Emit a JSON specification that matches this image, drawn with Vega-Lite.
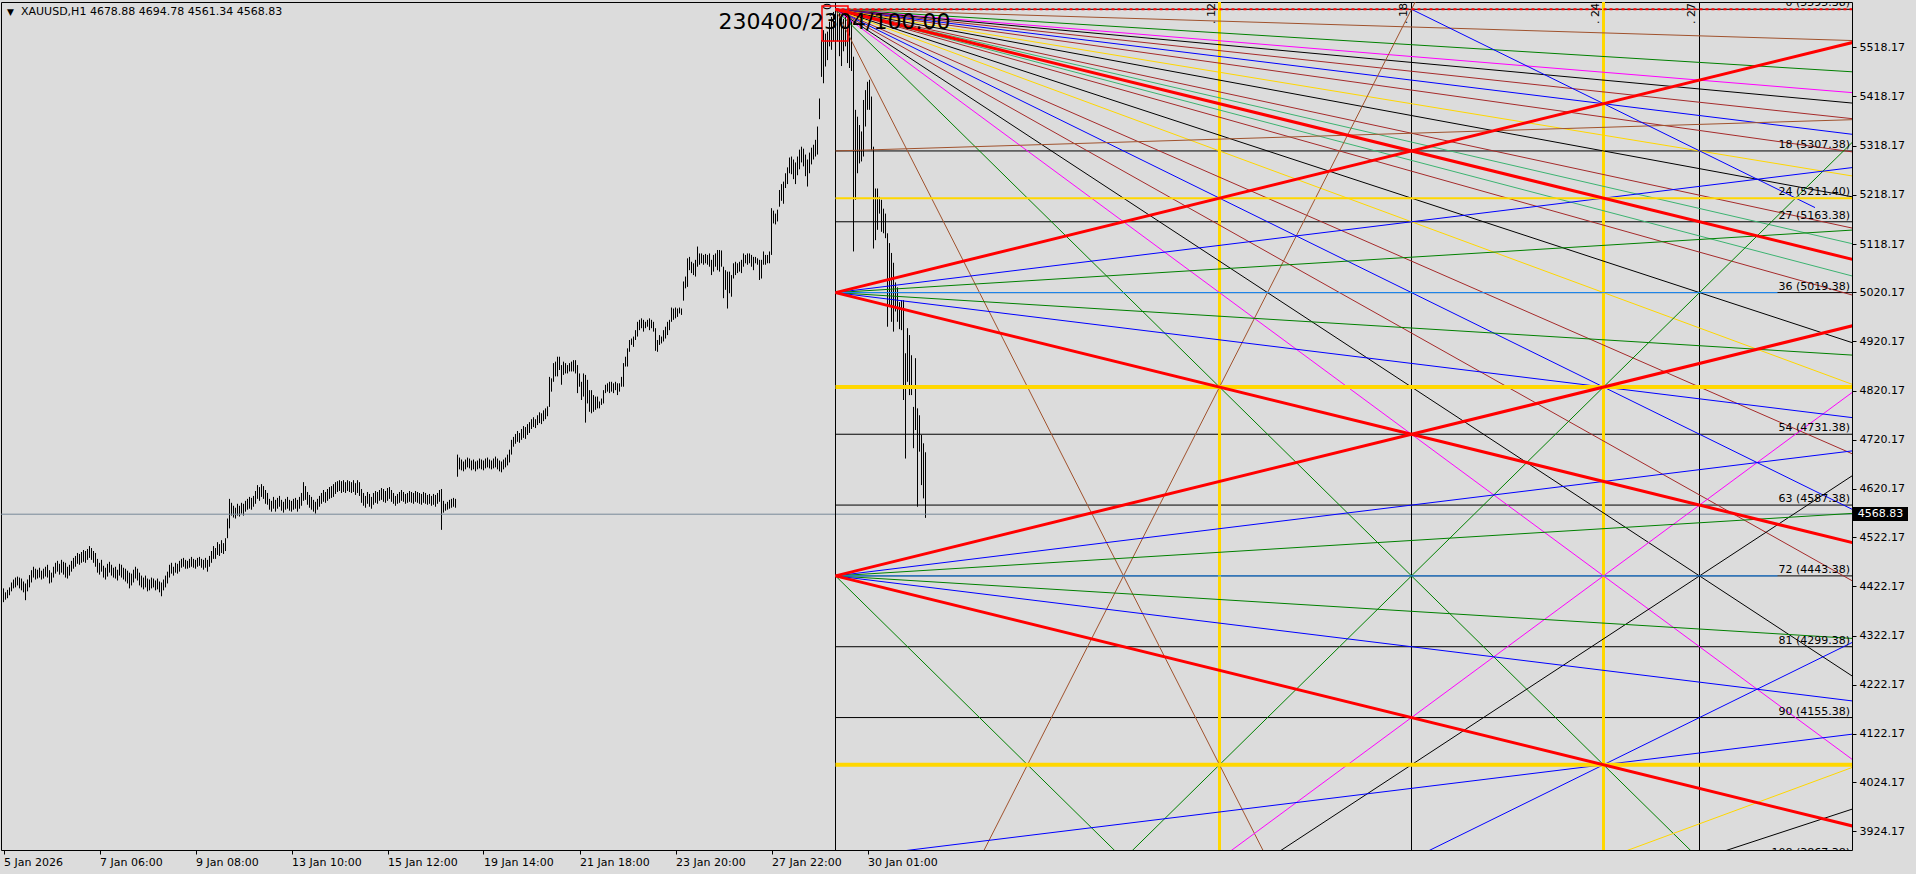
{
"$schema":"https://vega.github.io/schema/vega-lite/v6.json",
"width":1851,"height":848,
"autosize":{"type":"none"},
"padding":{"left":1,"top":2,"right":64,"bottom":24},
"background":"#DCDCDC",
"config":{"view":{"stroke":"#000000","strokeWidth":1,"fill":"#DCDCDC"},
"axis":{"grid":false,"domain":false,"title":null,"labelFont":"DejaVu Sans","labelFontSize":11,"labelColor":"#000000","tickColor":"#000000","tickSize":4}},
"datasets":{
"bars":[
{"i":0,"h":4418,"l":4390},{"i":1,"h":4410,"l":4395},{"i":2,"h":4415,"l":4398},{"i":3,"h":4420,"l":4404},{"i":4,"h":4430,"l":4412},{"i":5,"h":4436,"l":4418},{"i":6,"h":4440,"l":4420},{"i":7,"h":4442,"l":4424},{"i":8,"h":4440,"l":4418},{"i":9,"h":4438,"l":4414},
{"i":10,"h":4432,"l":4410},{"i":11,"h":4428,"l":4394},{"i":12,"h":4436,"l":4412},{"i":13,"h":4445,"l":4420},{"i":14,"h":4455,"l":4430},{"i":15,"h":4462,"l":4440},{"i":16,"h":4458,"l":4436},{"i":17,"h":4456,"l":4438},{"i":18,"h":4460,"l":4440},{"i":19,"h":4454,"l":4436},
{"i":20,"h":4458,"l":4438},{"i":21,"h":4462,"l":4442},{"i":22,"h":4466,"l":4440},{"i":23,"h":4455,"l":4428},{"i":24,"h":4450,"l":4430},{"i":25,"h":4462,"l":4440},{"i":26,"h":4470,"l":4448},{"i":27,"h":4474,"l":4452},{"i":28,"h":4468,"l":4446},{"i":29,"h":4476,"l":4450},
{"i":30,"h":4472,"l":4446},{"i":31,"h":4470,"l":4440},{"i":32,"h":4462,"l":4438},{"i":33,"h":4466,"l":4444},{"i":34,"h":4474,"l":4452},{"i":35,"h":4480,"l":4458},{"i":36,"h":4484,"l":4462},{"i":37,"h":4490,"l":4468},{"i":38,"h":4488,"l":4466},{"i":39,"h":4492,"l":4470},
{"i":40,"h":4496,"l":4472},{"i":41,"h":4494,"l":4470},{"i":42,"h":4498,"l":4476},{"i":43,"h":4504,"l":4480},{"i":44,"h":4500,"l":4476},{"i":45,"h":4494,"l":4470},{"i":46,"h":4490,"l":4462},{"i":47,"h":4478,"l":4450},{"i":48,"h":4470,"l":4446},{"i":49,"h":4476,"l":4452},
{"i":50,"h":4464,"l":4440},{"i":51,"h":4460,"l":4436},{"i":52,"h":4468,"l":4442},{"i":53,"h":4472,"l":4450},{"i":54,"h":4466,"l":4444},{"i":55,"h":4460,"l":4440},{"i":56,"h":4462,"l":4438},{"i":57,"h":4456,"l":4434},{"i":58,"h":4468,"l":4444},{"i":59,"h":4466,"l":4440},
{"i":60,"h":4460,"l":4436},{"i":61,"h":4458,"l":4432},{"i":62,"h":4454,"l":4428},{"i":63,"h":4450,"l":4418},{"i":64,"h":4448,"l":4424},{"i":65,"h":4456,"l":4430},{"i":66,"h":4462,"l":4438},{"i":67,"h":4458,"l":4434},{"i":68,"h":4450,"l":4424},{"i":69,"h":4444,"l":4420},
{"i":70,"h":4440,"l":4416},{"i":71,"h":4444,"l":4420},{"i":72,"h":4438,"l":4412},{"i":73,"h":4436,"l":4414},{"i":74,"h":4440,"l":4418},{"i":75,"h":4438,"l":4420},{"i":76,"h":4434,"l":4414},{"i":77,"h":4438,"l":4416},{"i":78,"h":4432,"l":4410},{"i":79,"h":4430,"l":4402},
{"i":80,"h":4436,"l":4414},{"i":81,"h":4444,"l":4420},{"i":82,"h":4452,"l":4428},{"i":83,"h":4466,"l":4440},{"i":84,"h":4470,"l":4448},{"i":85,"h":4462,"l":4444},{"i":86,"h":4470,"l":4450},{"i":87,"h":4468,"l":4448},{"i":88,"h":4474,"l":4452},{"i":89,"h":4478,"l":4460},
{"i":90,"h":4480,"l":4462},{"i":91,"h":4476,"l":4458},{"i":92,"h":4474,"l":4458},{"i":93,"h":4478,"l":4460},{"i":94,"h":4482,"l":4462},{"i":95,"h":4478,"l":4460},{"i":96,"h":4476,"l":4458},{"i":97,"h":4480,"l":4462},{"i":98,"h":4482,"l":4464},{"i":99,"h":4478,"l":4460},
{"i":100,"h":4476,"l":4456},{"i":101,"h":4480,"l":4460},{"i":102,"h":4476,"l":4452},{"i":103,"h":4484,"l":4462},{"i":104,"h":4494,"l":4470},{"i":105,"h":4504,"l":4478},{"i":106,"h":4500,"l":4478},{"i":107,"h":4512,"l":4486},{"i":108,"h":4508,"l":4484},{"i":109,"h":4516,"l":4490},
{"i":110,"h":4510,"l":4488},{"i":111,"h":4520,"l":4494},{"i":112,"h":4560,"l":4520},{"i":113,"h":4600,"l":4540},{"i":114,"h":4592,"l":4566},{"i":115,"h":4586,"l":4562},{"i":116,"h":4582,"l":4560},{"i":117,"h":4590,"l":4566},{"i":118,"h":4586,"l":4564},{"i":119,"h":4592,"l":4570},
{"i":120,"h":4590,"l":4566},{"i":121,"h":4596,"l":4574},{"i":122,"h":4600,"l":4578},{"i":123,"h":4604,"l":4580},{"i":124,"h":4602,"l":4578},{"i":125,"h":4606,"l":4584},{"i":126,"h":4616,"l":4590},{"i":127,"h":4628,"l":4600},{"i":128,"h":4624,"l":4596},{"i":129,"h":4630,"l":4604},
{"i":130,"h":4626,"l":4600},{"i":131,"h":4618,"l":4590},{"i":132,"h":4612,"l":4588},{"i":133,"h":4600,"l":4578},{"i":134,"h":4596,"l":4574},{"i":135,"h":4604,"l":4580},{"i":136,"h":4598,"l":4574},{"i":137,"h":4602,"l":4580},{"i":138,"h":4606,"l":4584},{"i":139,"h":4598,"l":4576},
{"i":140,"h":4594,"l":4572},{"i":141,"h":4600,"l":4578},{"i":142,"h":4604,"l":4580},{"i":143,"h":4598,"l":4576},{"i":144,"h":4596,"l":4574},{"i":145,"h":4600,"l":4578},{"i":146,"h":4602,"l":4580},{"i":147,"h":4598,"l":4574},{"i":148,"h":4604,"l":4580},{"i":149,"h":4612,"l":4586},
{"i":150,"h":4634,"l":4596},{"i":151,"h":4626,"l":4598},{"i":152,"h":4614,"l":4588},{"i":153,"h":4608,"l":4582},{"i":154,"h":4604,"l":4578},{"i":155,"h":4598,"l":4574},{"i":156,"h":4594,"l":4570},{"i":157,"h":4600,"l":4578},{"i":158,"h":4606,"l":4584},{"i":159,"h":4612,"l":4590},
{"i":160,"h":4618,"l":4594},{"i":161,"h":4614,"l":4592},{"i":162,"h":4620,"l":4596},{"i":163,"h":4624,"l":4600},{"i":164,"h":4626,"l":4602},{"i":165,"h":4630,"l":4604},{"i":166,"h":4634,"l":4610},{"i":167,"h":4636,"l":4614},{"i":168,"h":4638,"l":4616},{"i":169,"h":4636,"l":4612},
{"i":170,"h":4638,"l":4614},{"i":171,"h":4634,"l":4612},{"i":172,"h":4638,"l":4616},{"i":173,"h":4636,"l":4614},{"i":174,"h":4634,"l":4612},{"i":175,"h":4638,"l":4614},{"i":176,"h":4632,"l":4608},{"i":177,"h":4638,"l":4612},{"i":178,"h":4634,"l":4606},{"i":179,"h":4620,"l":4592},
{"i":180,"h":4612,"l":4586},{"i":181,"h":4606,"l":4582},{"i":182,"h":4614,"l":4590},{"i":183,"h":4610,"l":4584},{"i":184,"h":4604,"l":4580},{"i":185,"h":4612,"l":4588},{"i":186,"h":4616,"l":4592},{"i":187,"h":4614,"l":4590},{"i":188,"h":4618,"l":4596},{"i":189,"h":4622,"l":4598},
{"i":190,"h":4620,"l":4594},{"i":191,"h":4616,"l":4592},{"i":192,"h":4622,"l":4596},{"i":193,"h":4624,"l":4600},{"i":194,"h":4618,"l":4594},{"i":195,"h":4612,"l":4590},{"i":196,"h":4606,"l":4586},{"i":197,"h":4610,"l":4590},{"i":198,"h":4614,"l":4592},{"i":199,"h":4618,"l":4596},
{"i":200,"h":4614,"l":4594},{"i":201,"h":4610,"l":4590},{"i":202,"h":4612,"l":4592},{"i":203,"h":4616,"l":4594},{"i":204,"h":4614,"l":4592},{"i":205,"h":4612,"l":4590},{"i":206,"h":4616,"l":4594},{"i":207,"h":4614,"l":4592},{"i":208,"h":4612,"l":4590},{"i":209,"h":4610,"l":4588},
{"i":210,"h":4614,"l":4592},{"i":211,"h":4612,"l":4590},{"i":212,"h":4608,"l":4588},{"i":213,"h":4610,"l":4590},{"i":214,"h":4606,"l":4586},{"i":215,"h":4610,"l":4588},{"i":216,"h":4608,"l":4584},{"i":217,"h":4612,"l":4590},{"i":218,"h":4618,"l":4594},{"i":219,"h":4620,"l":4537},
{"i":220,"h":4596,"l":4572},{"i":221,"h":4590,"l":4576},{"i":222,"h":4594,"l":4578},{"i":223,"h":4598,"l":4580},{"i":224,"h":4600,"l":4582},{"i":225,"h":4602,"l":4584},{"i":226,"h":4600,"l":4582},{"i":227,"h":4690,"l":4645},{"i":228,"h":4684,"l":4660},{"i":229,"h":4680,"l":4658},
{"i":230,"h":4676,"l":4656},{"i":231,"h":4680,"l":4660},{"i":232,"h":4684,"l":4664},{"i":233,"h":4682,"l":4662},{"i":234,"h":4678,"l":4658},{"i":235,"h":4680,"l":4660},{"i":236,"h":4676,"l":4656},{"i":237,"h":4678,"l":4660},{"i":238,"h":4682,"l":4662},{"i":239,"h":4680,"l":4660},
{"i":240,"h":4678,"l":4658},{"i":241,"h":4682,"l":4662},{"i":242,"h":4684,"l":4664},{"i":243,"h":4680,"l":4662},{"i":244,"h":4678,"l":4660},{"i":245,"h":4682,"l":4662},{"i":246,"h":4686,"l":4664},{"i":247,"h":4682,"l":4660},{"i":248,"h":4678,"l":4656},{"i":249,"h":4676,"l":4654},
{"i":250,"h":4680,"l":4660},{"i":251,"h":4684,"l":4664},{"i":252,"h":4690,"l":4668},{"i":253,"h":4700,"l":4674},{"i":254,"h":4720,"l":4690},{"i":255,"h":4726,"l":4706},{"i":256,"h":4732,"l":4712},{"i":257,"h":4738,"l":4716},{"i":258,"h":4734,"l":4714},{"i":259,"h":4742,"l":4720},
{"i":260,"h":4748,"l":4724},{"i":261,"h":4746,"l":4722},{"i":262,"h":4752,"l":4730},{"i":263,"h":4756,"l":4734},{"i":264,"h":4762,"l":4742},{"i":265,"h":4766,"l":4746},{"i":266,"h":4762,"l":4744},{"i":267,"h":4770,"l":4750},{"i":268,"h":4776,"l":4754},{"i":269,"h":4774,"l":4752},
{"i":270,"h":4780,"l":4758},{"i":271,"h":4784,"l":4762},{"i":272,"h":4788,"l":4768},{"i":273,"h":4848,"l":4787},{"i":274,"h":4845,"l":4818},{"i":275,"h":4876,"l":4838},{"i":276,"h":4879,"l":4849},{"i":277,"h":4889,"l":4849},{"i":278,"h":4889,"l":4862},{"i":279,"h":4872,"l":4832},
{"i":280,"h":4879,"l":4852},{"i":281,"h":4876,"l":4855},{"i":282,"h":4872,"l":4855},{"i":283,"h":4876,"l":4859},{"i":284,"h":4879,"l":4859},{"i":285,"h":4882,"l":4859},{"i":286,"h":4882,"l":4855},{"i":287,"h":4872,"l":4815},{"i":288,"h":4855,"l":4828},{"i":289,"h":4838,"l":4801},
{"i":290,"h":4855,"l":4808},{"i":291,"h":4852,"l":4755},{"i":292,"h":4842,"l":4794},{"i":293,"h":4821,"l":4777},{"i":294,"h":4821,"l":4774},{"i":295,"h":4811,"l":4777},{"i":296,"h":4808,"l":4781},{"i":297,"h":4808,"l":4784},{"i":298,"h":4798,"l":4784},{"i":299,"h":4804,"l":4791},
{"i":300,"h":4821,"l":4794},{"i":301,"h":4832,"l":4815},{"i":302,"h":4835,"l":4818},{"i":303,"h":4838,"l":4815},{"i":304,"h":4838,"l":4818},{"i":305,"h":4835,"l":4815},{"i":306,"h":4838,"l":4821},{"i":307,"h":4835,"l":4811},{"i":308,"h":4835,"l":4818},{"i":309,"h":4848,"l":4828},
{"i":310,"h":4876,"l":4828},{"i":311,"h":4889,"l":4869},{"i":312,"h":4906,"l":4869},{"i":313,"h":4923,"l":4899},{"i":314,"h":4926,"l":4913},{"i":315,"h":4930,"l":4909},{"i":316,"h":4943,"l":4923},{"i":317,"h":4960,"l":4930},{"i":318,"h":4964,"l":4943},{"i":319,"h":4967,"l":4947},
{"i":320,"h":4964,"l":4940},{"i":321,"h":4960,"l":4947},{"i":322,"h":4964,"l":4950},{"i":323,"h":4967,"l":4943},{"i":324,"h":4964,"l":4947},{"i":325,"h":4960,"l":4940},{"i":326,"h":4947,"l":4901},{"i":327,"h":4923,"l":4899},{"i":328,"h":4933,"l":4913},{"i":329,"h":4930,"l":4916},
{"i":330,"h":4943,"l":4920},{"i":331,"h":4950,"l":4926},{"i":332,"h":4960,"l":4933},{"i":333,"h":4964,"l":4943},{"i":334,"h":4989,"l":4960},{"i":335,"h":4987,"l":4964},{"i":336,"h":4989,"l":4967},{"i":337,"h":4987,"l":4970},{"i":338,"h":4989,"l":4977},{"i":339,"h":4987,"l":4974},
{"i":340,"h":5042,"l":5003},{"i":341,"h":5052,"l":5028},{"i":342,"h":5089,"l":5031},{"i":343,"h":5092,"l":5065},{"i":344,"h":5082,"l":5059},{"i":345,"h":5079,"l":5055},{"i":346,"h":5086,"l":5052},{"i":347,"h":5113,"l":5072},{"i":348,"h":5099,"l":5076},{"i":349,"h":5099,"l":5079},
{"i":350,"h":5096,"l":5076},{"i":351,"h":5098,"l":5079},{"i":352,"h":5096,"l":5076},{"i":353,"h":5099,"l":5072},{"i":354,"h":5086,"l":5055},{"i":355,"h":5096,"l":5062},{"i":356,"h":5099,"l":5072},{"i":357,"h":5106,"l":5065},{"i":358,"h":5106,"l":5062},{"i":359,"h":5105,"l":5072},
{"i":360,"h":5072,"l":5008},{"i":361,"h":5065,"l":5025},{"i":362,"h":5062,"l":4987},{"i":363,"h":5062,"l":5018},{"i":364,"h":5055,"l":5011},{"i":365,"h":5079,"l":5048},{"i":366,"h":5082,"l":5055},{"i":367,"h":5079,"l":5059},{"i":368,"h":5082,"l":5062},{"i":369,"h":5086,"l":5059},
{"i":370,"h":5099,"l":5072},{"i":371,"h":5096,"l":5079},{"i":372,"h":5099,"l":5076},{"i":373,"h":5099,"l":5079},{"i":374,"h":5096,"l":5072},{"i":375,"h":5092,"l":5065},{"i":376,"h":5092,"l":5079},{"i":377,"h":5089,"l":5076},{"i":378,"h":5086,"l":5045},{"i":379,"h":5086,"l":5048},
{"i":380,"h":5103,"l":5076},{"i":381,"h":5096,"l":5076},{"i":382,"h":5096,"l":5079},{"i":383,"h":5103,"l":5079},{"i":384,"h":5191,"l":5096},{"i":385,"h":5186,"l":5160},{"i":386,"h":5180,"l":5158},{"i":387,"h":5188,"l":5164},{"i":388,"h":5228,"l":5194},{"i":389,"h":5240,"l":5206},
{"i":390,"h":5245,"l":5200},{"i":391,"h":5262,"l":5232},{"i":392,"h":5274,"l":5240},{"i":393,"h":5294,"l":5262},{"i":394,"h":5296,"l":5260},{"i":395,"h":5290,"l":5250},{"i":396,"h":5284,"l":5240},{"i":397,"h":5296,"l":5258},{"i":398,"h":5310,"l":5270},{"i":399,"h":5316,"l":5284},
{"i":400,"h":5312,"l":5276},{"i":401,"h":5300,"l":5256},{"i":402,"h":5290,"l":5235},{"i":403,"h":5304,"l":5262},{"i":404,"h":5314,"l":5280},{"i":405,"h":5320,"l":5290},{"i":406,"h":5330,"l":5296},{"i":407,"h":5357,"l":5300},{"i":408,"h":5414,"l":5372},{"i":409,"h":5533,"l":5458},
{"i":410,"h":5553,"l":5445},{"i":411,"h":5546,"l":5479},{"i":412,"h":5550,"l":5492},{"i":413,"h":5570,"l":5520},{"i":414,"h":5580,"l":5513},{"i":415,"h":5590,"l":5530},{"i":416,"h":5595,"l":5540},{"i":417,"h":5592,"l":5530},{"i":418,"h":5588,"l":5500},{"i":419,"h":5580,"l":5480},
{"i":420,"h":5576,"l":5510},{"i":421,"h":5584,"l":5520},{"i":422,"h":5590,"l":5486},{"i":423,"h":5580,"l":5476},{"i":424,"h":5572,"l":5470},{"i":425,"h":5499,"l":5103},{"i":426,"h":5391,"l":5208},{"i":427,"h":5377,"l":5262},{"i":428,"h":5360,"l":5282},{"i":429,"h":5347,"l":5286},
{"i":430,"h":5411,"l":5296},{"i":431,"h":5431,"l":5357},{"i":432,"h":5448,"l":5391},{"i":433,"h":5452,"l":5391},{"i":434,"h":5418,"l":5309},{"i":435,"h":5316,"l":5109},{"i":436,"h":5231,"l":5126},{"i":437,"h":5231,"l":5147},{"i":438,"h":5214,"l":5180},{"i":439,"h":5208,"l":5143},
{"i":440,"h":5190,"l":5140},{"i":441,"h":5180,"l":5130},{"i":442,"h":5140,"l":4950},{"i":443,"h":5120,"l":4990},{"i":444,"h":5100,"l":4960},{"i":445,"h":5080,"l":4940},{"i":446,"h":5040,"l":4981},{"i":447,"h":5030,"l":4960},{"i":448,"h":5000,"l":4945},{"i":449,"h":5004,"l":4943},
{"i":450,"h":5004,"l":4801},{"i":451,"h":4896,"l":4682},{"i":452,"h":4947,"l":4838},{"i":453,"h":4933,"l":4811},{"i":454,"h":4892,"l":4811},{"i":455,"h":4787,"l":4703},{"i":456,"h":4886,"l":4740},{"i":457,"h":4784,"l":4584},{"i":458,"h":4770,"l":4696},{"i":459,"h":4730,"l":4628},
{"i":460,"h":4713,"l":4601},{"i":461,"h":4694.78,"l":4561.34}
],
"fan":[
{"o":"0","r":"1/8","i1":416,"p1":5595.38,"i2":928,"p2":5531.38},
{"o":"0","r":"1/4","i1":416,"p1":5595.38,"i2":928,"p2":5467.38},
{"o":"0","r":"1/3","i1":416,"p1":5595.38,"i2":928,"p2":5424.71},
{"o":"0","r":"3/8","i1":416,"p1":5595.38,"i2":928,"p2":5403.38},
{"o":"0","r":"7/16","i1":416,"p1":5595.38,"i2":928,"p2":5371.38},
{"o":"0","r":"1/2","i1":416,"p1":5595.38,"i2":928,"p2":5339.38},
{"o":"0","r":"9/16","i1":416,"p1":5595.38,"i2":928,"p2":5303.38},
{"o":"0","r":"2/3","i1":416,"p1":5595.38,"i2":928,"p2":5254.05},
{"o":"0","r":"3/4","i1":416,"p1":5595.38,"i2":928,"p2":5211.38},
{"o":"0","r":"7/8","i1":416,"p1":5595.38,"i2":928,"p2":5147.38},
{"o":"0","r":"15/16","i1":416,"p1":5595.38,"i2":928,"p2":5115.38},
{"o":"0","r":"16/15","i1":416,"p1":5595.38,"i2":928,"p2":5049.25},
{"o":"0","r":"8/7","i1":416,"p1":5595.38,"i2":928,"p2":5010.24},
{"o":"0","r":"4/3","i1":416,"p1":5595.38,"i2":928,"p2":4912.71},
{"o":"0","r":"3/2","i1":416,"p1":5595.38,"i2":928,"p2":4827.38},
{"o":"0","r":"16/9","i1":416,"p1":5595.38,"i2":928,"p2":4685.16},
{"o":"0","r":"2","i1":416,"p1":5595.38,"i2":928,"p2":4571.38},
{"o":"0","r":"16/7","i1":416,"p1":5595.38,"i2":928,"p2":4425.09},
{"o":"0","r":"8/3","i1":416,"p1":5595.38,"i2":928,"p2":4230.05},
{"o":"0","r":"3","i1":416,"p1":5595.38,"i2":928,"p2":4059.38},
{"o":"0","r":"4","i1":416,"p1":5595.38,"i2":928,"p2":3547.38},
{"o":"0","r":"8","i1":416,"p1":5595.38,"i2":928,"p2":1499.38},
{"o":"144","r":"4/3","i1":416,"p1":3291.38,"i2":928,"p2":3974.05},
{"o":"144","r":"3/2","i1":416,"p1":3291.38,"i2":928,"p2":4059.38},
{"o":"144","r":"2","i1":416,"p1":3291.38,"i2":928,"p2":4315.38},
{"o":"144","r":"8/3","i1":416,"p1":3291.38,"i2":928,"p2":4656.71},
{"o":"144","r":"3","i1":416,"p1":3291.38,"i2":928,"p2":4827.38},
{"o":"144","r":"4","i1":416,"p1":3291.38,"i2":928,"p2":5339.38},
{"o":"144","r":"8","i1":416,"p1":3291.38,"i2":928,"p2":7387.38},
{"o":"36","r":"1/2","i1":416,"p1":5019.38,"i2":928,"p2":5275.38},
{"o":"36","r":"1/4","i1":416,"p1":5019.38,"i2":928,"p2":5147.38},
{"o":"36","r":"1/4","i1":416,"p1":5019.38,"i2":928,"p2":4891.38},
{"o":"36","r":"1/2","i1":416,"p1":5019.38,"i2":928,"p2":4763.38},
{"o":"36","r":"0","i1":416,"p1":5019.38,"i2":887,"p2":5019.38},
{"o":"72","r":"1/2","i1":416,"p1":4443.38,"i2":928,"p2":4699.38},
{"o":"72","r":"1/4","i1":416,"p1":4443.38,"i2":928,"p2":4571.38},
{"o":"72","r":"1/4","i1":416,"p1":4443.38,"i2":928,"p2":4315.38},
{"o":"72","r":"1/2","i1":416,"p1":4443.38,"i2":928,"p2":4187.38},
{"o":"72","r":"0","i1":416,"p1":4443.38,"i2":887,"p2":4443.38},
{"o":"72","r":"4","i1":416,"p1":4443.38,"i2":928,"p2":2395.38},
{"o":"108","r":"1/2","i1":416,"p1":3867.38,"i2":928,"p2":4123.38},
{"o":"18","r":"1/8","i1":416,"p1":5307.38,"i2":928,"p2":5371.38},
{"o":"t18","r":"2","i1":704,"p1":5595.38,"i2":905.75,"p2":5192.2}
],
"red":[
{"o":"0","i1":416,"p1":5595.38,"i2":928,"p2":5083.38},
{"o":"36","i1":416,"p1":5019.38,"i2":928,"p2":5531.38},
{"o":"36","i1":416,"p1":5019.38,"i2":928,"p2":4507.38},
{"o":"72","i1":416,"p1":4443.38,"i2":928,"p2":4955.38},
{"o":"72","i1":416,"p1":4443.38,"i2":928,"p2":3931.38}
],
"levels":[
{"lv":0,"p":5595.38,"lab":"0 (5595.38)"},
{"lv":18,"p":5307.38,"lab":"18 (5307.38)"},
{"lv":24,"p":5211.4,"lab":"24 (5211.40)"},
{"lv":27,"p":5163.38,"lab":"27 (5163.38)"},
{"lv":36,"p":5019.38,"lab":"36 (5019.38)"},
{"lv":48,"p":4827.38,"lab":""},
{"lv":54,"p":4731.38,"lab":"54 (4731.38)"},
{"lv":63,"p":4587.38,"lab":"63 (4587.38)"},
{"lv":72,"p":4443.38,"lab":"72 (4443.38)"},
{"lv":81,"p":4299.38,"lab":"81 (4299.38)"},
{"lv":90,"p":4155.38,"lab":"90 (4155.38)"},
{"lv":96,"p":4059.38,"lab":""},
{"lv":108,"p":3867.38,"lab":"108 (3867.38)"}
],
"vlines":[
{"t":0,"i":416,"lab":". 0"},
{"t":12,"i":608,"lab":". 12"},
{"t":18,"i":704,"lab":". 18"},
{"t":24,"i":800,"lab":". 24"},
{"t":27,"i":848,"lab":". 27"}
]
},
"layer":[
{"data":{"name":"bars"},"mark":{"type":"rule","color":"#000000","strokeWidth":1},
"encoding":{
"x":{"field":"i","type":"quantitative","scale":{"type":"linear","domain":[-1.25,924.25],"zero":false,"nice":false},
"axis":{"orient":"bottom","values":[0,48,96,144,192,240,288,336,384,432],"labelExpr":"['5 Jan 2026','7 Jan 06:00','9 Jan 08:00','13 Jan 10:00','15 Jan 12:00','19 Jan 14:00','21 Jan 18:00','23 Jan 20:00','27 Jan 22:00','30 Jan 01:00'][round(datum.value/48)]","labelAlign":"left","labelBaseline":"top","labelPadding":2,"labelOverlap":false,"labelBound":false,"labelFlush":false}},
"y":{"field":"l","type":"quantitative","scale":{"domain":[3886.1,5610.2],"zero":false,"nice":false},
"axis":{"orient":"right","values":[5518.17,5418.17,5318.17,5218.17,5118.17,5020.17,4920.17,4820.17,4720.17,4620.17,4522.17,4422.17,4322.17,4222.17,4122.17,4024.17,3924.17],"format":".2f","labelPadding":3,"labelOverlap":false,"labelBound":false,"labelFlush":false,"labelBaseline":"middle"}},
"y2":{"field":"h"}}},
{"data":{"values":[{"price":4568.83}]},"mark":{"type":"rule","color":"#778899","strokeWidth":1},
"encoding":{"y":{"field":"price","type":"quantitative"}}},
{"data":{"name":"levels"},"transform":[{"filter":"datum.lv!=24 && datum.lv!=48 && datum.lv!=96"}],"mark":{"type":"rule","color":"#000000","strokeWidth":1,"clip":true},
"encoding":{"x":{"datum":416,"type":"quantitative"},"x2":{"datum":924.25},
"y":{"field":"p","type":"quantitative"}}},
{"data":{"name":"vlines"},"transform":[{"filter":"datum.t==0 || datum.t==18 || datum.t==27"}],"mark":{"type":"rule","color":"#000000","strokeWidth":1},
"encoding":{"x":{"field":"i","type":"quantitative"}}},
{"data":{"name":"vlines"},"transform":[{"filter":"datum.t==12 || datum.t==24"}],"mark":{"type":"rule","color":"#FFD700","strokeWidth":3},
"encoding":{"x":{"field":"i","type":"quantitative"}}},
{"data":{"name":"fan"},"mark":{"type":"rule","strokeWidth":1,"clip":true},
"encoding":{"x":{"field":"i1","type":"quantitative"},"x2":{"field":"i2"},
"y":{"field":"p1","type":"quantitative"},"y2":{"field":"p2"},
"color":{"field":"r","type":"nominal","legend":null,"scale":{"domain":["1/8","1/4","1/3","3/8","7/16","1/2","9/16","2/3","3/4","7/8","15/16","16/15","8/7","4/3","3/2","16/9","2","16/7","8/3","3","4","8","0"],"range":["#A0522D","#008000","#FF00FF","#000000","#A52A2A","#0000FF","#A52A2A","#FFD700","#000000","#A52A2A","#3CB371","#3CB371","#A52A2A","#000000","#FFD700","#A52A2A","#0000FF","#A52A2A","#000000","#FF00FF","#008000","#A0522D","#1E90FF"]}}}},
{"data":{"name":"levels"},"transform":[{"filter":"datum.lv==24"}],"mark":{"type":"rule","color":"#FFD700","strokeWidth":2,"clip":true},
"encoding":{"x":{"datum":416,"type":"quantitative"},"x2":{"datum":924.25},
"y":{"field":"p","type":"quantitative"}}},
{"data":{"name":"levels"},"transform":[{"filter":"datum.lv==48 || datum.lv==96"}],"mark":{"type":"rule","color":"#FFD700","strokeWidth":4,"clip":true},
"encoding":{"x":{"datum":416,"type":"quantitative"},"x2":{"datum":924.25},
"y":{"field":"p","type":"quantitative"}}},
{"data":{"name":"red"},"mark":{"type":"rule","color":"#FF0000","strokeWidth":3,"clip":true},
"encoding":{"x":{"field":"i1","type":"quantitative"},"x2":{"field":"i2"},
"y":{"field":"p1","type":"quantitative"},"y2":{"field":"p2"}}},
{"data":{"name":"levels"},"transform":[{"filter":"datum.lv==0"}],"mark":{"type":"rule","color":"#FF0000","strokeWidth":2,"strokeDash":[3,3],"clip":true},
"encoding":{"x":{"datum":416,"type":"quantitative"},"x2":{"datum":924.25},
"y":{"field":"p","type":"quantitative"}}},
{"data":{"name":"levels"},"transform":[{"filter":"datum.lab != ''"}],"mark":{"type":"text","align":"right","baseline":"alphabetic","dy":-3,"font":"DejaVu Sans","fontSize":11,"color":"#000000","clip":true},
"encoding":{"x":{"datum":923.25,"type":"quantitative"},
"y":{"field":"p","type":"quantitative"},"text":{"field":"lab"}}},
{"data":{"name":"vlines"},"mark":{"type":"text","angle":270,"align":"right","baseline":"middle","dy":-8,"font":"DejaVu Sans","fontSize":11,"color":"#000000"},
"encoding":{"x":{"field":"i","type":"quantitative"},
"y":{"datum":5608.2,"type":"quantitative"},"text":{"field":"lab"}}},
{"data":{"values":[{"n":1}]},"mark":{"type":"rect","fill":null,"fillOpacity":0,"stroke":"#FF0000","strokeWidth":1.5},
"encoding":{"x":{"datum":409.25,"type":"quantitative"},"x2":{"datum":422.25},
"y":{"datum":5602.1,"type":"quantitative"},"y2":{"datum":5530.9}}},
{"data":{"values":[{"t":"230400/2304/100.00"}]},"mark":{"type":"text","align":"center","baseline":"middle","font":"DejaVu Sans","fontSize":22,"color":"#000000"},
"encoding":{"x":{"datum":415.5,"type":"quantitative"},
"y":{"datum":5569.6,"type":"quantitative"},"text":{"field":"t"}}},
{"data":{"values":[{"t":"XAUUSD,H1  4678.88 4694.78 4561.34 4568.83"}]},"mark":{"type":"text","align":"left","baseline":"middle","font":"DejaVu Sans","fontSize":11,"color":"#000000"},
"encoding":{"x":{"datum":8.75,"type":"quantitative"},
"y":{"datum":5589.9,"type":"quantitative"},"text":{"field":"t"}}},
{"data":{"values":[{"t":"▼"}]},"mark":{"type":"text","align":"center","baseline":"middle","font":"DejaVu Sans","fontSize":9,"color":"#000000"},
"encoding":{"x":{"datum":3.5,"type":"quantitative"},
"y":{"datum":5588.9,"type":"quantitative"},"text":{"field":"t"}}},
{"data":{"values":[{"price":4568.83}]},"mark":{"type":"rect","color":"#000000"},
"encoding":{"x":{"datum":924.75,"type":"quantitative"},"x2":{"datum":952.25},
"y":{"datum":4583.5,"type":"quantitative"},"y2":{"datum":4555.0}}},
{"data":{"values":[{"price":4568.83}]},"mark":{"type":"text","align":"center","baseline":"middle","font":"DejaVu Sans","fontSize":11,"color":"#FFFFFF"},
"encoding":{"x":{"datum":938.5,"type":"quantitative"},
"y":{"field":"price","type":"quantitative"},"text":{"field":"price","format":".2f"}}}
]
}
